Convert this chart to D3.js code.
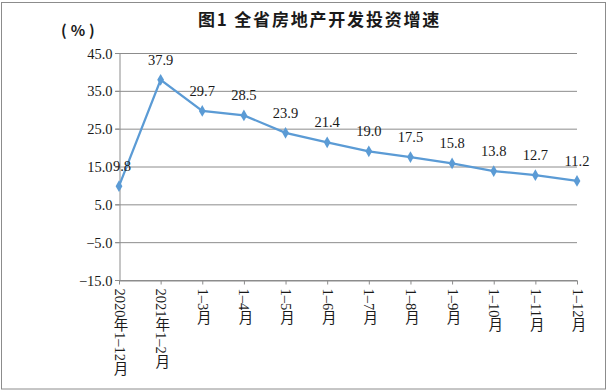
<!DOCTYPE html>
<html><head><meta charset="utf-8">
<script src="https://cdn.jsdelivr.net/npm/d3@7"></script>
<style>
html,body{margin:0;padding:0;background:#fff;}
svg{display:block;}
</style></head>
<body>
<svg id="c" width="610" height="391"></svg>
<script>
const categories = ["2020年1-12月","2021年1-2月","1-3月","1-4月","1-5月","1-6月","1-7月","1-8月","1-9月","1-10月","1-11月","1-12月"];
const values = [9.8, 37.9, 29.7, 28.5, 23.9, 21.4, 19.0, 17.5, 15.8, 13.8, 12.7, 11.2];
const yTicks = [45, 35, 25, 15, 5, -5, -15];
const title = "图1 全省房地产开发投资增速";
const unit = "(%)";

(function(){
const SERIF = "'Liberation Serif','Times New Roman','Noto Sans CJK SC',serif";
const svg = d3.select("#c");
const pLeft = 119, pRight = 577, pTop = 53, pBottom = 280;
const x = d3.scalePoint().domain(categories).range([pLeft, pRight]).padding(0);
const y = d3.scaleLinear().domain([-15, 45]).range([pBottom, pTop]);
const gray = "#8c8c8c";
const blue = "#5b9bd5";
const ink = "#1a1a1a";

svg.append("rect").attr("x",1.5).attr("y",2.5).attr("width",604).attr("height",386.5)
  .attr("fill","none").attr("stroke",gray).attr("stroke-width",1);

svg.append("text").attr("x",198).attr("y",26).attr("text-anchor","start")
  .style("font-family","'Noto Sans CJK SC',sans-serif").attr("fill",ink)
  .style("letter-spacing","1.8px")
  .style("font-weight","bold").style("font-size","17px").text(title);
svg.append("text").attr("x",61).attr("y",36).attr("fill",ink)
  .style("font-family","'Noto Sans CJK SC',sans-serif").style("font-weight","bold")
  .style("letter-spacing","4px")
  .style("font-size","15px").text(unit);

// grid
svg.append("g").selectAll("line").data(yTicks).join("line")
  .attr("x1",pLeft-4).attr("x2",pRight).attr("y1",d=>y(d)+0.5).attr("y2",d=>y(d)+0.5)
  .attr("stroke",gray).attr("stroke-width",1);

// y axis
const yAxis = svg.append("g").attr("transform",`translate(${pLeft+0.5},0)`)
  .call(d3.axisLeft(y).tickValues(yTicks).tickSize(4).tickFormat(d3.format(".1f")));
yAxis.select(".domain").attr("stroke",gray);
yAxis.selectAll(".tick line").attr("stroke",gray);
yAxis.selectAll(".tick text").attr("x",-7).attr("dy","0.35em")
  .style("font-size","14.5px").style("font-family",SERIF).attr("fill",ink)
  .text(d=>d3.format(".1f")(d).replace("-","−"));

// x axis
const xAxis = svg.append("g").attr("transform",`translate(0,${pBottom+0.5})`)
  .call(d3.axisBottom(x).tickSize(4).tickSizeOuter(0));
xAxis.select(".domain").attr("stroke",gray);
xAxis.selectAll(".tick line").attr("stroke",gray);
xAxis.selectAll(".tick text").remove();
xAxis.selectAll(".tick").append("text")
  .attr("x",0).attr("y",8)
  .attr("text-anchor","start")
  .style("writing-mode","vertical-rl").style("text-orientation","mixed")
  .style("font-size","14.5px").style("font-family",SERIF).attr("fill",ink)
  .text(d=>d.replace(/-/g,"–"));

// line
svg.append("path").datum(values)
  .attr("d", d3.line().x((d,i)=>x(categories[i])).y(d=>y(d)))
  .attr("fill","none").attr("stroke",blue).attr("stroke-width",2.25);

svg.append("g").selectAll("path").data(values).join("path")
  .attr("d", d3.symbol(d3.symbolDiamond, 40))
  .attr("transform",(d,i)=>`translate(${x(categories[i])},${y(d)})`)
  .attr("fill",blue);

svg.append("g").selectAll("text").data(values).join("text")
  .attr("x",(d,i)=>x(categories[i])+ (i===0?3:0))
  .attr("y",d=>y(d)-15)
  .attr("text-anchor","middle")
  .style("font-size","14.5px").style("font-family",SERIF).attr("fill",ink)
  .text(d=>d.toFixed(1));
})();
</script>
</body></html>
